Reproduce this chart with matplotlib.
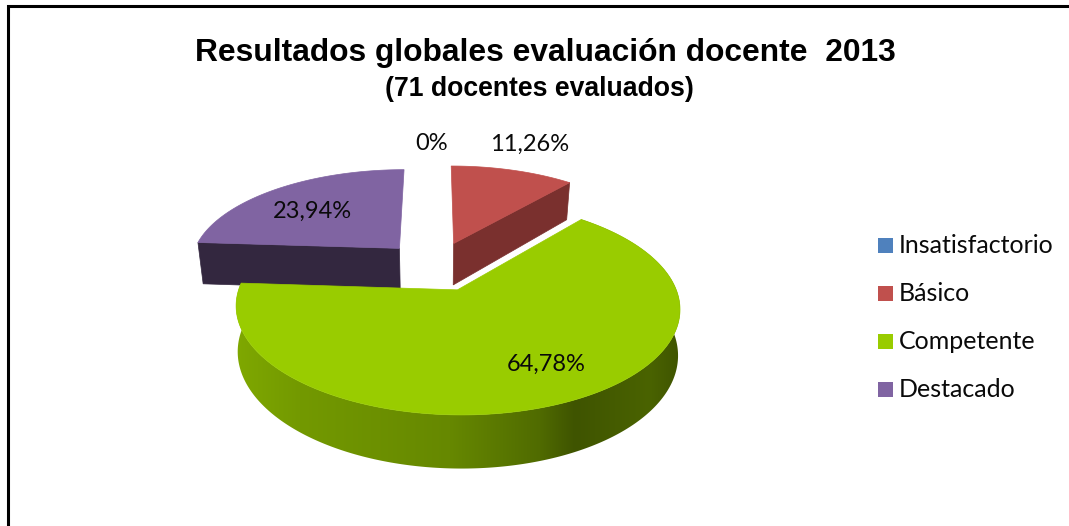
import numpy as np
import matplotlib
matplotlib.use("Agg")
import matplotlib.pyplot as plt
from matplotlib.colors import to_rgb
from matplotlib.patches import Rectangle, Polygon

categories = ["Insatisfactorio", "Básico", "Competente", "Destacado"]
values = [0.0, 11.26, 64.78, 23.94]
labels = ["0%", "11,26%", "64,78%", "23,94%"]
top_colors = ["#4F81BD", "#C0504D", "#99CC00", "#8064A2"]
side_colors = ["#2F4D71", "#7A302E", "#5F7F00", "#33273F"]
title = "Resultados globales evaluación docente  2013"
subtitle = "(71 docentes evaluados)"

W, H = 1069, 526
X0, Y0 = 435.5, 266
RX, RY = 210.5, 96.5
P = 0.16
DEPTH = 43
EXPLODE = 0.258

# colours along the green rim, left to right
rim_x = [236, 300, 450, 540, 575, 650, 681]
rim_cols = ["#7FA800", "#739900", "#668800", "#506B00", "#3F5400", "#4A6300", "#3F5400"]


def project(u, v, z=0.0, shrink=0.022):
    w = 1 + P * v
    return X0 + RX * u / w * (1 - shrink * z), Y0 - RY * v / w + DEPTH * z / w


fig = plt.figure(figsize=(W / 100, H / 100), dpi=100)
ax = fig.add_axes([0, 0, 1, 1])
ax.axis("off")

ax.plot([8, 8, W], [H, 6, 6], color="black", lw=2.2, solid_joinstyle="miter")

ax.text(545, 53.5, title, ha="center", va="center", fontsize=22.9, fontweight="bold", family="Liberation Sans")
ax.text(539, 89, subtitle, ha="center", va="center", fontsize=19.2, fontweight="bold", family="Liberation Sans")

starts = np.cumsum([0] + values[:-1]) / 100 * 2 * np.pi
ends = np.cumsum(values) / 100 * 2 * np.pi


def slice_points(i):
    mid = (starts[i] + ends[i]) / 2
    cu, cv = EXPLODE * np.sin(mid), EXPLODE * np.cos(mid)
    t = np.linspace(starts[i], ends[i], 300)
    return cu, cv, cu + np.sin(t), cv + np.cos(t)


# far slices first, the big one goes on top
for i in [3, 1, 2]:
    cu, cv, us, vs = slice_points(i)
    if i == 2:
        # outer rim: horizontal gradient clipped to the rim shape
        xa, ya = project(us, vs)
        xb, yb = project(us, vs, 1.0, shrink=0.008)
        rim = Polygon(np.c_[np.r_[xa, xb[::-1]], np.r_[ya, yb[::-1]]], closed=True, transform=ax.transData)
        xs = np.arange(rim_x[0] - 10, rim_x[-1] + 10)
        cols = np.array([to_rgb(c) for c in rim_cols])
        grad = np.stack([np.interp(xs, rim_x, cols[:, k]) for k in range(3)], axis=1)[None, :, :]
        im = ax.imshow(grad, extent=[xs[0], xs[-1], yb.max() + 2, ya.min()], aspect="auto", zorder=3)
        im.set_clip_path(rim)
    else:
        # inner cut face seen from the front
        end_u, end_v = (us[0], vs[0]) if i == 3 else (us[-1], vs[-1])
        xa, ya = project(np.array([end_u, cu]), np.array([end_v, cv]))
        xb, yb = project(np.array([end_u, cu]), np.array([end_v, cv]), 1.0)
        ax.fill([xa[0], xa[1], xb[1], xb[0]], [ya[0], ya[1], yb[1], yb[0]],
                color=side_colors[i], lw=0.5, zorder=2)
    x, y = project(np.r_[cu, us], np.r_[cv, vs])
    ax.fill(x, y, color=top_colors[i], lw=0.5, zorder=4 if i == 2 else 2)

label_pos = [(432, 143), (530, 144), (546, 364), (312, 211)]
for lab, (lx, ly) in zip(labels, label_pos):
    ax.text(lx, ly, lab, ha="center", va="center", fontsize=17, family="Lato", zorder=6, color="#0a0a0a")

for i, name in enumerate(categories):
    y = 245.5 + 48 * i
    ax.add_patch(Rectangle((878, y - 7.5), 15, 15, color=top_colors[i], lw=0))
    ax.text(899, y, name, ha="left", va="center", fontsize=18, family="Lato", color="#0a0a0a")

ax.set_xlim(0, W)
ax.set_ylim(H, 0)

fig.savefig("out.png", dpi=100)
